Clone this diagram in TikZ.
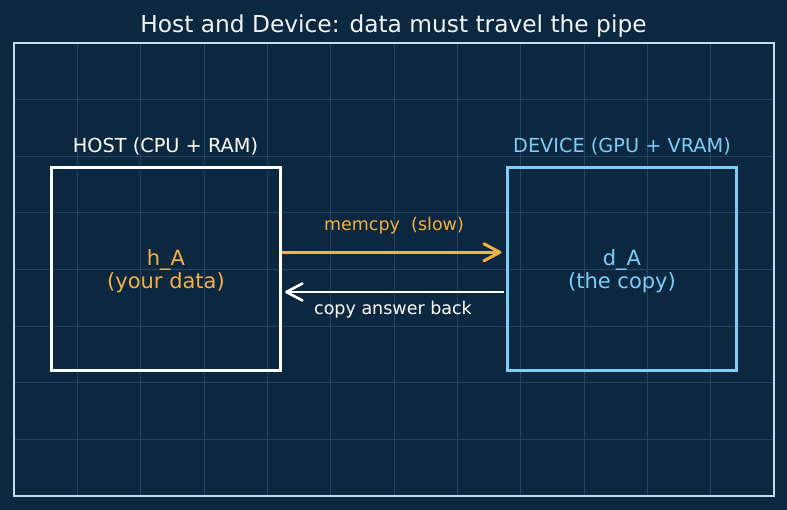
\documentclass[tikz,border=0pt]{standalone}
\usepackage{fontspec}
\setmainfont{DejaVu Sans}
\usetikzlibrary{arrows.meta}
\definecolor{bgc}{HTML}{0C2840}
\definecolor{gridc}{HTML}{244463}
\definecolor{framec}{HTML}{C2DCEE}
\definecolor{devc}{HTML}{7DCDF5}
\definecolor{orc}{HTML}{F5B042}
\definecolor{titlec}{HTML}{F0F4F8}
\newcommand{\twolines}[2]{\raisebox{-3pt}[\height][\depth]{\begin{tabular}{@{}c@{}}#1\\#2\end{tabular}}}
\tikzset{
  boxstyle/.style={draw, line width=3.2pt, minimum width=229pt, minimum height=203pt, inner sep=0pt, align=center, font=\fontsize{21}{23.5}\selectfont},
  toplabel/.style={anchor=base, inner sep=0pt, font=\fontsize{19.3}{22}\selectfont},
  arrlabel/.style={anchor=base, inner sep=0pt, font=\fontsize{17.5}{20}\selectfont},
  headtip/.style={-{Straight Barb[length=16pt,width=17pt,line cap=round,line join=round]}},
}
\begin{document}
\begin{tikzpicture}[x=1pt,y=-1pt]
\useasboundingbox (0,0) rectangle (787,510);
\fill[bgc] (0,0) rectangle (787,510);
% grid
\begin{scope}
\clip (14,43) rectangle (774,496);
\foreach \i in {1,...,11} {\draw[gridc, line width=0.9pt] ({14+\i*760/12},43) -- ({14+\i*760/12},496);}
\foreach \j in {1,...,7} {\draw[gridc, line width=0.9pt] (14,{43+\j*453/8}) -- (774,{43+\j*453/8});}
\end{scope}
\node[draw=framec, line width=2pt, minimum width=760pt, minimum height=453pt, inner sep=0pt] (frame) at (394,269.5) {};
\node[anchor=base, inner sep=0pt, text=titlec, font=\fontsize{23.3}{26}\selectfont] (title) at (393.5,32.3) {Host and Device: data must travel the pipe};
\node[boxstyle, draw=white, text=orc] (host) at (166,269.3) {\twolines{h\_A}{(your data)}};
\node[boxstyle, draw=devc, text=devc] (dev) at (622,269.3) {\twolines{d\_A}{(the copy)}};
\node[toplabel, text=white] (hostlbl) at (165.5,152.7) {HOST (CPU + RAM)};
\node[toplabel, text=devc] (devlbl) at (622,152.7) {DEVICE (GPU + VRAM)};
\draw[orc, line width=3pt, headtip, shorten >=4.5pt] ([yshift=17pt]host.east) -- ([yshift=17pt]dev.west);
\draw[white, line width=2.6pt, headtip, shorten >=3pt, shorten <=1.5pt] ([yshift=-22.7pt]dev.west) -- ([yshift=-22.7pt]host.east);
\node[arrlabel, text=orc] (memlbl) at (394,230.7) {memcpy\ \ (slow)};
\node[arrlabel, text=white] (backlbl) at (393,314.3) {copy answer back};
\end{tikzpicture}
\end{document}
